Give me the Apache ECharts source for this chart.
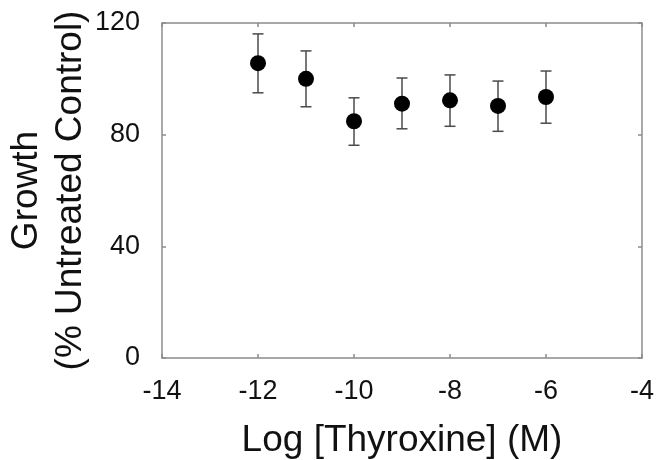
<!DOCTYPE html>
<html>
<head>
<meta charset="utf-8">
<script src="https://cdn.jsdelivr.net/npm/echarts@6/dist/echarts.min.js"></script>
<style>
  html, body { margin: 0; padding: 0; background: #fff; }
  #chart { width: 656px; height: 460px; }
</style>
</head>
<body>
<div id="chart"></div>
<script>
// data
const logDose = [-12, -11, -10, -9, -8, -7, -6];
const growth = [105.6, 100.0, 84.8, 91.1, 92.3, 90.3, 93.5];
const errHi = [116.1, 110.0, 93.2, 100.3, 101.4, 99.2, 102.8];
const errLo = [95.0, 90.0, 76.2, 82.1, 83.0, 81.2, 84.1];

const xTitle = 'Log [Thyroxine] (M)';
const yTitle = 'Growth\n(% Untreated Control)';

const axisGrey = '#8c8c8c';
const font = 'Liberation Sans, Arial, sans-serif';

const chart = echarts.init(document.getElementById('chart'));

const points = logDose.map((x, i) => [x, growth[i]]);
const bars = logDose.map((x, i) => [x, errLo[i], errHi[i]]);

// frame axes: bottom/left carry labels, top/right only mirror ticks
function frameAxis(extra) {
  return Object.assign({
    type: 'value',
    axisLine: { show: true, onZero: false, lineStyle: { color: axisGrey, width: 1.5 } },
    axisTick: { show: true, inside: true, length: 4, lineStyle: { color: axisGrey, width: 1.5 } },
    splitLine: { show: false }
  }, extra);
}

const option = {
  animation: false,
  grid: { left: 162, right: 14, top: 23, bottom: 102, containLabel: false, outerBoundsMode: 'none' },
  xAxis: [
    frameAxis({
      min: -14, max: -4, interval: 2,
      position: 'bottom',
      axisLabel: { color: '#111', fontSize: 27, fontFamily: font, margin: 20 },
      name: xTitle,
      nameLocation: 'middle',
      nameGap: 64,
      nameMoveOverlap: false,
      nameTextStyle: { color: '#111', fontSize: 37, fontFamily: font }
    }),
    frameAxis({
      min: -14, max: -4, interval: 2,
      position: 'top',
      axisLabel: { show: false }
    })
  ],
  yAxis: [
    frameAxis({
      min: 0, max: 120, interval: 40,
      position: 'left',
      axisLabel: { color: '#111', fontSize: 27, fontFamily: font, margin: 22 },
      name: yTitle,
      nameLocation: 'middle',
      nameGap: 69,
      nameMoveOverlap: false,
      nameTextStyle: { color: '#111', fontSize: 37, fontFamily: font, lineHeight: 44 }
    }),
    frameAxis({
      min: 0, max: 120, interval: 40,
      position: 'right',
      axisLabel: { show: false }
    })
  ],
  series: [
    {
      name: 'error',
      type: 'custom',
      data: bars,
      z: 1,
      renderItem: function (params, api) {
        const x = api.value(0);
        const lo = api.coord([x, api.value(1)]);
        const hi = api.coord([x, api.value(2)]);
        const w = 5.5;
        const style = { stroke: '#4a4a4a', lineWidth: 1.5 };
        return {
          type: 'group',
          children: [
            { type: 'line', shape: { x1: hi[0], y1: hi[1], x2: lo[0], y2: lo[1] }, style: style },
            { type: 'line', shape: { x1: hi[0] - w, y1: hi[1], x2: hi[0] + w, y2: hi[1] }, style: style },
            { type: 'line', shape: { x1: lo[0] - w, y1: lo[1], x2: lo[0] + w, y2: lo[1] }, style: style }
          ]
        };
      }
    },
    {
      name: 'growth',
      type: 'scatter',
      data: points,
      symbol: 'circle',
      symbolSize: 16,
      z: 3,
      itemStyle: { color: '#000', opacity: 1 }
    }
  ]
};

chart.setOption(option);
</script>
</body>
</html>
